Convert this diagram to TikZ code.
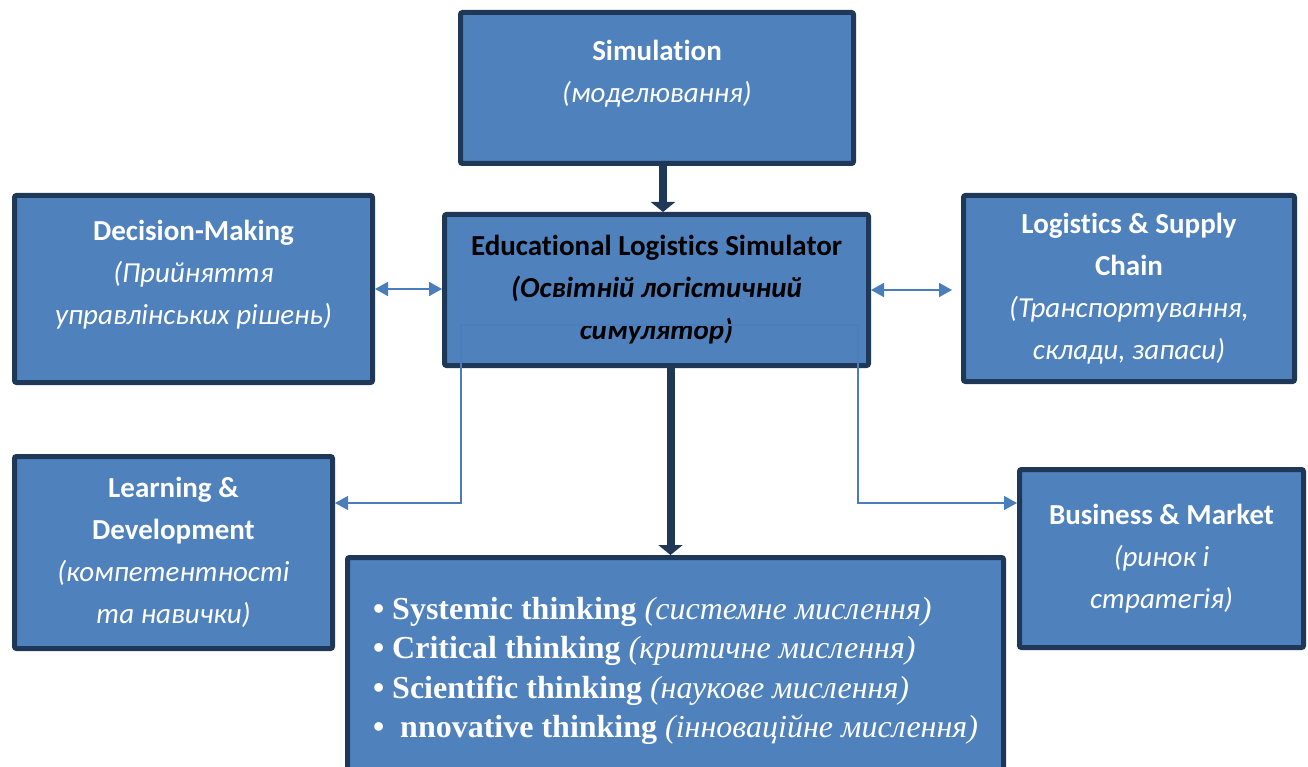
\documentclass[tikz,border=0pt]{standalone}
\usepackage{fontspec}
\setmainfont{Carlito}[RawFeature={-liga;-clig;-calt}]
\newfontfamily\serifbody{Liberation Serif}
\usetikzlibrary{arrows.meta,positioning}

\definecolor{boxfill}{RGB}{79,129,189}
\definecolor{boxline}{RGB}{32,56,88}
\definecolor{linkblue}{RGB}{74,126,187}

\tikzset{
  block/.style={draw=boxline, fill=boxfill, line width=5pt, rounded corners=2pt,
    align=center, text=white, font=\fontsize{29}{42}\selectfont},
  link/.style={draw=linkblue, line width=1.8pt, >={Triangle[width=14pt,length=13pt]}},
  branch/.style={link, line width=1.2pt},
  trunk/.style={draw=boxline, line width=8pt, >={Triangle[width=24pt,length=10pt]}},
}

\begin{document}
\begin{tikzpicture}[x=1pt,y=-1pt]
\useasboundingbox (0,0) rectangle (1308,767);
\clip (0,0) rectangle (1308,767);
% boxes
\node[block, minimum width=393pt, minimum height=151pt] (sim) at (657,88)
  {\textbf{Simulation}\\ \textit{(моделювання)}\\[-9pt]\mbox{}};
\node[block, minimum width=424pt, minimum height=151pt, text=black] (els) at (656.5,290)
  {\textbf{Educational Logistics Simulator}\\ \textbf{\textit{(Освітній логістичний}}\\ \textbf{\textit{симулятор)}}};
\node[block, minimum width=358pt, minimum height=187pt] (dec) at (193.5,289)
  {\textbf{Decision-Making}\\ \textit{(Прийняття}\\ \textit{управлінських рішень)}\\[-9pt]\mbox{}};
\node[block, minimum width=331pt, minimum height=186pt] (log) at (1129,288.5)
  {\textbf{Logistics \& Supply}\\ \textbf{Chain}\\ \textit{(Транспортування,}\\ \textit{склади, запаси)}};
\node[block, minimum width=318pt, minimum height=192pt] (lrn) at (173.5,552.5)
  {\textbf{Learning \&}\\ \textbf{Development}\\ \textit{(компетентності}\\ \textit{та навички)}};
\node[block, minimum width=284pt, minimum height=178pt] (bus) at (1161.5,558.5)
  {\textbf{Business \& Market}\\ \textit{(ринок і}\\ \textit{стратегія)}};
\node[block, minimum width=656pt, minimum height=227pt, align=left,
  font=\serifbody\fontsize{32}{39.5}\selectfont] (think) at (675.5,671)
  {\textbf{•} \textbf{Systemic thinking} \textit{(системне мислення)}\\
   \textbf{•} \textbf{Critical thinking} \textit{(критичне мислення)}\\
   \textbf{•} \textbf{Scientific thinking} \textit{(наукове мислення)}\\
   \textbf{•} \ \textbf{nnovative thinking} \textit{(інноваційне мислення)}};

% heavy arrows through the middle
\path[trunk, ->] ([xshift=6pt]sim.south) -- ([xshift=6pt]sim.south |- els.north);
\path[trunk, ->] ([xshift=14pt]els.south) -- ([xshift=14pt]els.south |- think.north);

% two-way links
\path[link, <->] (dec.east) -- (dec.east -| els.west);
\path[link, <->, shorten >=9pt] (els.east) -- (els.east -| log.west);

% side branches
\coordinate (lfork) at (461,503);
\coordinate (rfork) at (858,503);
\coordinate (cross) at (0,325);
\path[branch, <->] (lrn.east |- lfork) -- (lfork) -- (lfork |- cross)
  -- (rfork |- cross) -- (rfork) -- (bus.west |- rfork);
\end{tikzpicture}
\end{document}
